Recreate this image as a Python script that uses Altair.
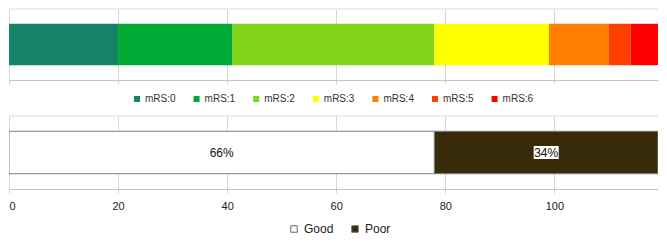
import altair as alt
import pandas as pd

# ---- data ----
mrs_labels = ["mRS:0", "mRS:1", "mRS:2", "mRS:3", "mRS:4", "mRS:5", "mRS:6"]
mrs_counts = [20, 21, 37, 21, 11, 4, 5]
mrs_colors = ["#158466", "#00a933", "#81d41a", "#ffff00", "#ff8000", "#ff4000", "#ff0000"]

outcome_labels = ["Good", "Poor"]
outcome_counts = [78, 41]
outcome_pct = ["66%", "34%"]
outcome_boxed = [False, True]
outcome_colors = ["#ffffff", "#372b0a"]

x_ticks = [0, 20, 40, 60, 80, 100]
x_max = 119

FONT = "Liberation Sans"
GRID = "#d6d6d6"

mrs_df = pd.DataFrame({"label": mrs_labels, "count": mrs_counts,
                       "idx": list(range(len(mrs_labels))), "row": "all"})
out_df = pd.DataFrame({"label": outcome_labels, "count": outcome_counts,
                       "pct": outcome_pct, "boxed": outcome_boxed,
                       "idx": list(range(len(outcome_labels))), "row": "all"})

W, H_TOP, H_BOT = 649, 71, 73
xscale = alt.Scale(domain=[0, x_max], nice=False, zero=True)
yscale = alt.Scale(paddingOuter=0.36, paddingInner=0)


def x_axis(labels):
    return alt.Axis(values=x_ticks, grid=True, gridColor=GRID, domainColor="#c4c4c4",
                    tickColor=GRID, tickSize=4, labels=labels, labelFlush=True,
                    labelFont=FONT, labelFontSize=11, labelColor="#222222",
                    labelPadding=7, title=None)


top_line = alt.Chart(alt.Data(values=[{"a": 1}])).mark_rule(
    color="#dcdcdc", strokeWidth=1).encode(
    x=alt.value(0), x2=alt.value("width"), y=alt.value(0))

top_bar = alt.Chart(mrs_df).mark_bar(clip=True).encode(
    x=alt.X("count:Q", stack="zero", scale=xscale, axis=x_axis(False)),
    y=alt.Y("row:N", axis=None, scale=yscale),
    color=alt.Color("label:N", scale=alt.Scale(domain=mrs_labels, range=mrs_colors),
                    legend=alt.Legend(orient="none", direction="horizontal",
                                      legendX=123, legendY=85, title=None,
                                      symbolType="square", symbolSize=36,
                                      symbolStrokeWidth=0, labelFont=FONT,
                                      labelFontSize=10, labelColor="#333333",
                                      labelOffset=3, columnPadding=15.6, padding=0)),
    order=alt.Order("idx:Q"),
)

top = alt.layer(top_line, top_bar).properties(width=W, height=H_TOP)

bot_bar = alt.Chart(out_df).mark_bar(stroke="#7f7f7f", strokeWidth=1, clip=True).encode(
    x=alt.X("count:Q", stack="zero", scale=xscale, axis=x_axis(True)),
    y=alt.Y("row:N", axis=None, scale=yscale),
    color=alt.Color("label:N", scale=alt.Scale(domain=outcome_labels, range=outcome_colors),
                    legend=alt.Legend(orient="none", direction="horizontal",
                                      legendX=279, legendY=107, title=None,
                                      symbolType="square", symbolSize=42,
                                      symbolStrokeColor="#666666", symbolStrokeWidth=1,
                                      labelFont=FONT, labelFontSize=12,
                                      labelColor="#222222", labelOffset=4,
                                      columnPadding=15, padding=0)),
    order=alt.Order("idx:Q"),
)

stacked = alt.Chart(out_df).transform_stack(
    stack="count", groupby=["row"], as_=["x0", "x1"],
    sort=[alt.SortField("idx")]
).transform_calculate(mid="(datum.x0 + datum.x1) / 2")

box = stacked.transform_filter("datum.boxed").mark_point(
    shape="M-1,-0.52H1V0.52H-1Z", size=625, filled=True, color="white",
    opacity=1, strokeWidth=0).encode(
    x=alt.X("mid:Q", scale=xscale), y=alt.Y("row:N", scale=yscale))

txt = stacked.mark_text(font=FONT, fontSize=12, color="#111111").encode(
    x=alt.X("mid:Q", scale=xscale), y=alt.Y("row:N", scale=yscale), text="pct:N")

bottom = alt.layer(top_line, bot_bar, box, txt).properties(width=W, height=H_BOT)

chart = alt.vconcat(top, bottom, spacing=10).resolve_scale(
    color="independent").configure_view(stroke="transparent").properties(
    padding=0, background="white")

chart.save("out.html", embed_options={"renderer": "svg", "actions": False})
